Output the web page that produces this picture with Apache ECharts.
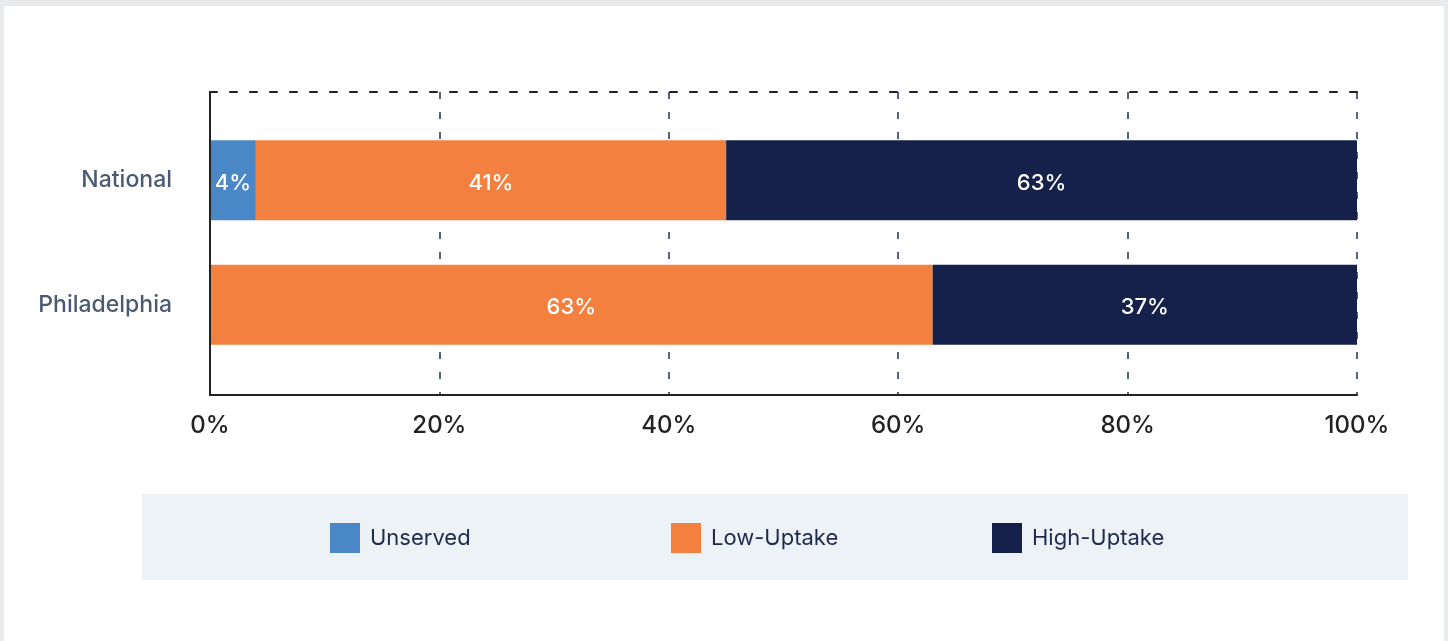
<!DOCTYPE html>
<html>
<head>
<meta charset="utf-8">
<script src="https://cdn.jsdelivr.net/npm/echarts@6/dist/echarts.min.js"></script>
<style>
  html, body { margin: 0; padding: 0; background: #e9eaec; }
  #wrap { position: relative; width: 1448px; height: 641px; background: #e9eaec; overflow: hidden; }
  #chart { position: absolute; left: 4px; top: 6px; width: 1440px; height: 635px; background: #ffffff; }
</style>
</head>
<body>
<div id="wrap"><div id="chart"></div></div>
<script>
// Broadband status by area, share of households (%)
const categories = ['National', 'Philadelphia'];
const seriesNames = ['Unserved', 'Low-Uptake', 'High-Uptake'];
const unserved = [4, null];
const lowUptake = [41, 63];
const highUptake = [63, 37];
const xTicks = [0, 20, 40, 60, 80, 100];

const colors = {
  'Unserved': '#4a87c6',
  'Low-Uptake': '#f48040',
  'High-Uptake': '#16214b'
};

const FONT = 'Inter, "Noto Sans", sans-serif';
const chart = echarts.init(document.getElementById('chart'));

function barSeries(name, values) {
  return {
    name: name,
    type: 'bar',
    stack: 'total',
    xAxisIndex: 2,
    yAxisIndex: 1,
    barWidth: 80,
    clip: true,
    data: values,
    itemStyle: { color: colors[name] },
    label: {
      show: true,
      position: 'inside',
      offset: [0, 3],
      formatter: p => p.value + '%',
      color: '#ffffff',
      fontFamily: FONT,
      fontSize: 22,
      fontWeight: 500
    },
    emphasis: { disabled: true }
  };
}

function legendFor(name, left) {
  return {
    data: [name],
    left: left,
    top: 517,
    padding: 0,
    icon: 'rect',
    itemWidth: 30,
    itemHeight: 30,
    selectedMode: false,
    textStyle: {
      fontFamily: FONT,
      fontSize: 22,
      color: '#1e2a4e',
      padding: [0, 0, 0, 5]
    }
  };
}

chart.setOption({
  animation: false,
  backgroundColor: '#ffffff',
  graphic: [{
    type: 'rect',
    z: 0,
    shape: { x: 138, y: 488, width: 1266, height: 86 },
    style: { fill: '#edf2f7' }
  }],
  legend: [
    legendFor('Unserved', 326),
    legendFor('Low-Uptake', 667),
    legendFor('High-Uptake', 988)
  ],
  grid: [
    // axis frame
    { left: 206, right: 87, top: 86, bottom: 246 },
    // bar area
    { left: 206, right: 87, top: 112, bottom: 274 }
  ],
  xAxis: [
    {
      gridIndex: 0,
      type: 'value',
      min: xTicks[0],
      max: xTicks[xTicks.length - 1],
      interval: 20,
      axisLine: { show: true, lineStyle: { color: '#222222', width: 2 } },
      axisTick: { show: false },
      axisLabel: {
        formatter: v => v + '%',
        color: '#222222',
        fontFamily: FONT,
        fontSize: 24,
        fontWeight: 500,
        margin: 19
      },
      splitLine: {
        show: true,
        lineStyle: { color: '#56647a', width: 2, type: [7, 13] }
      },
      z: 1
    },
    {
      gridIndex: 0,
      type: 'value',
      position: 'top',
      min: 0,
      max: 100,
      axisLine: { show: true, lineStyle: { color: '#222222', width: 2, type: [7, 13] } },
      axisTick: { show: false },
      axisLabel: { show: false },
      splitLine: { show: false },
      z: 1
    },
    {
      gridIndex: 1,
      type: 'value',
      min: 0,
      max: 100,
      show: false
    }
  ],
  yAxis: [
    {
      gridIndex: 0,
      type: 'value',
      min: 0,
      max: 1,
      axisLine: { show: true, lineStyle: { color: '#222222', width: 2 } },
      axisTick: { show: false },
      axisLabel: { show: false },
      splitLine: { show: false },
      z: 3
    },
    {
      gridIndex: 1,
      type: 'category',
      inverse: true,
      data: categories,
      axisLine: { show: false },
      axisTick: { show: false },
      splitLine: { show: false },
      axisLabel: {
        color: '#4b5a73',
        fontFamily: FONT,
        fontSize: 23,
        fontWeight: 500,
        margin: 38
      }
    }
  ],
  series: [
    barSeries(seriesNames[0], unserved),
    barSeries(seriesNames[1], lowUptake),
    barSeries(seriesNames[2], highUptake)
  ]
});
</script>
</body>
</html>
